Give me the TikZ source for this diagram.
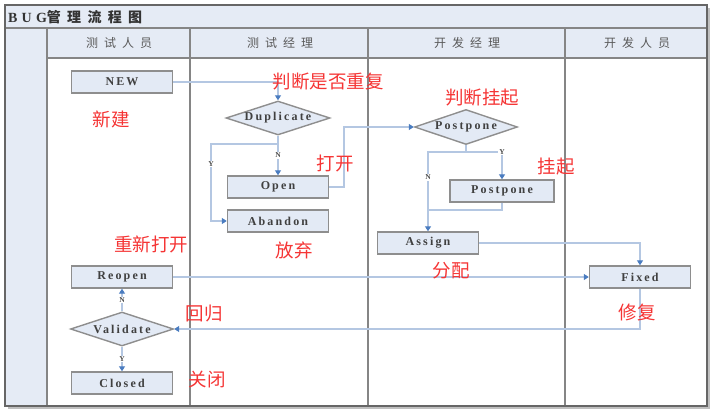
\documentclass[tikz,border=0pt]{standalone}
\usepackage{fontspec}
\setmainfont{Liberation Serif}
\newfontfamily\cjk{Noto Sans CJK SC}
\newfontfamily\cjkwide[LetterSpace=50]{Noto Sans CJK SC}
\newfontfamily\boxfont[LetterSpace=18]{Liberation Serif}
\newfontfamily\titlefont[LetterSpace=30]{Liberation Serif}
\newfontfamily\titlecjk[LetterSpace=45]{Noto Sans CJK SC}
\usetikzlibrary{shapes.geometric, arrows.meta}

\definecolor{lanefill}{HTML}{E5EBF5}
\definecolor{boxfill}{HTML}{E3EAF5}
\definecolor{boxline}{HTML}{8E8E8E}
\definecolor{flowline}{HTML}{B4C7E2}
\definecolor{tipblue}{HTML}{4A7CC0}
\definecolor{notered}{HTML}{F53535}
\definecolor{frameline}{HTML}{858585}

\begin{document}
\begin{tikzpicture}[x=1pt, y=-1pt,
  box/.style={draw=boxline, line width=1.4pt, fill=boxfill, rectangle, minimum width=101pt, minimum height=22pt, inner sep=0pt, text=black!75, font=\boxfont\fontsize{12}{12}\selectfont\bfseries},
  decision/.style={box, diamond, aspect=3, minimum width=104pt, minimum height=34pt},
  flow/.style={draw=flowline, line width=1.2pt, -{Triangle[width=6pt, length=5pt, color=tipblue]}},
  plain/.style={draw=flowline, line width=1.2pt},
  yn/.style={fill=white, inner sep=1pt, text=black!70, font=\fontsize{7.5}{7.5}\selectfont\bfseries},
  note/.style={inner sep=0pt, text=notered, font=\cjk\fontsize{18.5}{18.5}\selectfont},
  lanehead/.style={inner sep=0pt, text=black!65, font=\cjkwide\fontsize{12}{12}\selectfont},
  lane/.style={draw=frameline, line width=1.3pt}]
\useasboundingbox (0,0) rectangle (715,412);

\fill[lanefill] (5,5) rectangle (707,28);
\fill[lanefill] (5,28) rectangle (47,406);
\fill[lanefill] (47,28) rectangle (707,58);
\draw[black!25, line width=2pt] (8,408) -- (709,408) -- (709,8);
\draw[lane] (5,28) -- (707,28);
\draw[lane] (47,58) -- (707,58);
\foreach \x in {47,190,368,565} \draw[lane] (\x,28) -- (\x,406);
\draw[black!60, line width=1.6pt] (5,5) rectangle (707,406);

\node (title) [anchor=west, inner sep=0pt, text=black!80] at (8,17) {\titlefont\fontsize{14}{14}\selectfont\bfseries BUG\titlecjk 管理流程图};
\node (tester) [lanehead] at (119,43) {测试人员};
\node (testmgr) [lanehead] at (280,43) {测试经理};
\node (devmgr) [lanehead] at (467,43) {开发经理};
\node (dev) [lanehead] at (637,43) {开发人员};

\node (new) [box] at (122,82) {NEW};
\node (dup) [decision] at (278,118) {Duplicate};
\node (open) [box] at (278,187) {Open};
\node (abandon) [box] at (278,221) {Abandon};
\node (ppd) [decision, minimum width=103pt, minimum height=35pt] at (466,127) {Postpone};
\node (ppbox) [box, minimum width=104pt] at (502,191) {Postpone};
\node (assign) [box] at (428,243) {Assign};
\node (fixed) [box] at (640,277) {Fixed};
\node (reopen) [box] at (122,277) {Reopen};
\node (validate) [decision, minimum width=103pt] at (122,329) {Validate};
\node (closed) [box] at (122,383) {Closed};

\coordinate (ybend) at (211,144);
\coordinate (openbend) at (344,127);
\coordinate (ppsplit) at (466,152);
\coordinate (ppjoin) at (428,210);

\draw[flow] (new.east) -| (dup.north);
\draw[flow] (dup.south) -- node[yn] (dupn) {N} (open.north);
\draw[flow] (dup.south) |- (ybend) |- (abandon.west);
\node (dupy) [yn] at (211,164) {Y};
\draw[flow] (open.east) -| (openbend) -- (ppd.west);
\draw[plain] (ppd.south) -- (ppsplit);
\draw[flow] (ppsplit) -| node[yn, pos=0.5] (ppy) {Y} (ppbox.north);
\draw[flow] (ppsplit) -| node[yn, pos=0.66] (ppn) {N} (assign.north);
\draw[plain] (ppbox.south) |- (ppjoin);
\draw[flow] (assign.east) -| (fixed.north);
\draw[flow] (reopen.east) -- (fixed.west);
\draw[flow] (fixed.south) |- (validate.east);
\draw[flow] (validate.north) -- node[yn] (valn) {N} (reopen.south);
\draw[flow] (validate.south) -- node[yn] (valy) {Y} (closed.north);

\node (n-new) [note] at (111,119) {新建};
\node (n-dup) [note] at (328,82) {判断是否重复};
\node (n-open) [note] at (335,164) {打开};
\node (n-ppd) [note] at (482,98) {判断挂起};
\node (n-pp) [note] at (556,167) {挂起};
\node (n-abandon) [note] at (294,250) {放弃};
\node (n-reopen) [note] at (151,244) {重新打开};
\node (n-assign) [note] at (451,271) {分配};
\node (n-fixed) [note] at (637,312) {修复};
\node (n-validate) [note] at (204,314) {回归};
\node (n-closed) [note] at (207,380) {关闭};
\end{tikzpicture}
\end{document}
